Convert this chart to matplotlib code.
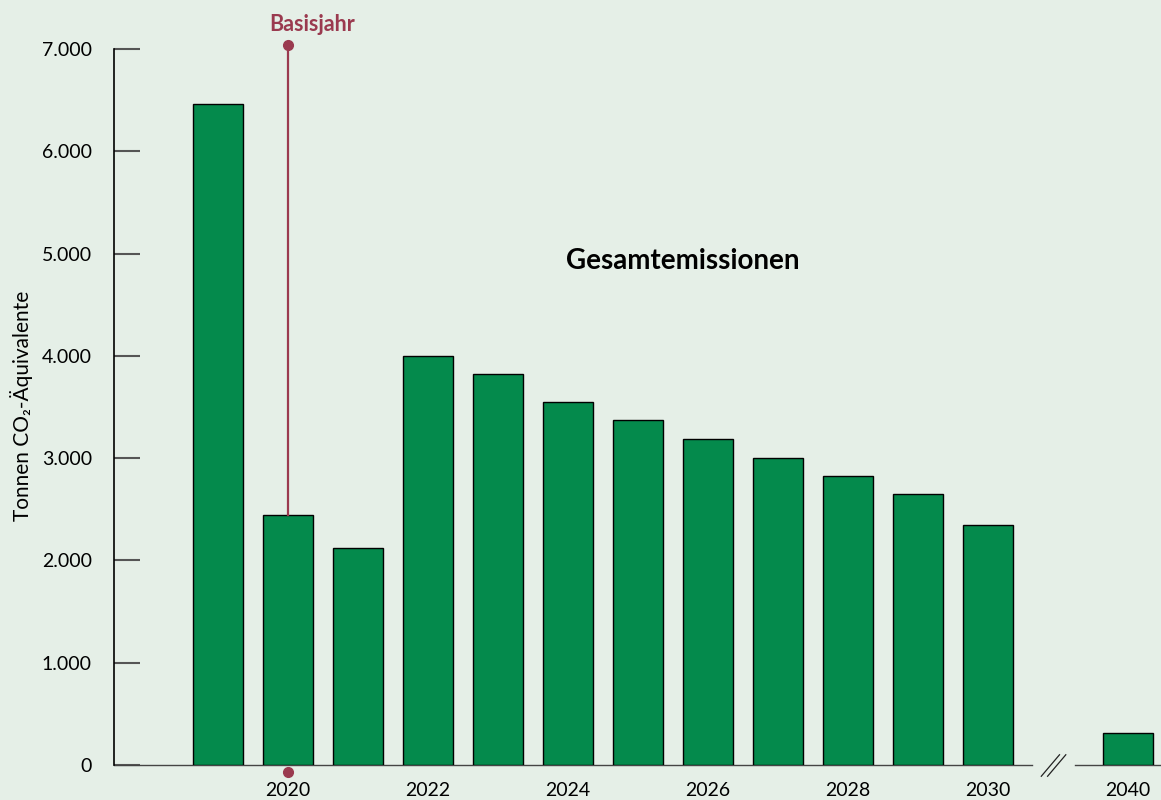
import numpy as np
import matplotlib
matplotlib.use("Agg")
from matplotlib import pyplot as plt

plt.rcParams['font.family'] = ['Lato', 'DejaVu Sans']

# emissions per year, tonnes CO2 equivalent
years = [2019, 2020, 2021, 2022, 2023, 2024, 2025, 2026, 2027, 2028, 2029, 2030, 2040]
emissions = [6460, 2445, 2120, 4000, 3820, 3550, 3370, 3190, 3005, 2825, 2650, 2345, 315]
tick_years = [2020, 2022, 2024, 2026, 2028, 2030, 2040]
base_year = 2020
yticks = [0, 1000, 2000, 3000, 4000, 5000, 6000, 7000]

bg = '#e5efe7'
green = '#048a4c'
red = '#9a3a4f'

# one slot per year up to 2030, then one empty slot for the axis break
pos = {}
for i, y in enumerate(years):
    pos[y] = i if y <= 2030 else i + 1
x = np.array([pos[y] for y in years])

fig = plt.figure(figsize=(11.61, 8), dpi=100, facecolor=bg)
ax = fig.add_axes([114 / 1161, 1 - 765 / 800, 1 - 114 / 1161, 716 / 800])
ax.set_facecolor(bg)

ax.bar(x, emissions, width=0.715, color=green, edgecolor='black', linewidth=1.0, zorder=3)

ax.set_xlim(-1.486, 13.47)
ax.set_ylim(0, 7000)

for s in ['top', 'right', 'bottom']:
    ax.spines[s].set_visible(False)
ax.spines['left'].set_linewidth(1.2)
ax.spines['left'].set_color('black')

ax.set_yticks(yticks)
ax.set_yticklabels([f"{v:,.0f}".replace(",", ".") for v in yticks], fontsize=14)
ax.tick_params(axis='y', direction='in', length=19, width=1.5, color='#555555', pad=16)
ax.set_xticks([pos[y] for y in tick_years])
ax.set_xticklabels([str(y) for y in tick_years], fontsize=14)
ax.tick_params(axis='x', length=0, pad=12)

# baseline with break between 2030 and 2040
gap_lo = pos[2030] + 0.63
gap_hi = pos[2030] + 1.24
ax.plot([ax.get_xlim()[0], gap_lo], [0, 0], color='#444444', lw=1.0, zorder=2, clip_on=False)
ax.plot([gap_hi, ax.get_xlim()[1]], [0, 0], color='#444444', lw=1.0, zorder=2, clip_on=False)
mid = (gap_lo + gap_hi) / 2
for off in (-0.045, 0.045):
    ax.plot([mid + off - 0.13, mid + off + 0.13], [-110, 100], color='#222222', lw=0.9, clip_on=False)

# base year marker
bx = pos[base_year]
btop = emissions[years.index(base_year)]
ax.plot([bx, bx], [btop, 7040], color=red, lw=1.6, zorder=4, clip_on=False)
ax.plot([bx], [7040], 'o', color=red, ms=7, zorder=5, clip_on=False)
ax.plot([bx], [-65], 'o', color=red, ms=7, zorder=5, clip_on=False)
ax.text(bx + 0.35, 7238, 'Basisjahr', color=red, fontsize=15.5, fontweight='bold',
        ha='center', va='center')

ax.text(6.64, 4930, 'Gesamtemissionen', fontsize=20, fontweight='bold', ha='center', va='center')

fig.text(22 / 1161, 1 - 406 / 800, 'Tonnen CO₂-Äquivalente', rotation=90, fontsize=15,
         ha='center', va='center')

fig.savefig('out.png', dpi=100, facecolor=bg)
